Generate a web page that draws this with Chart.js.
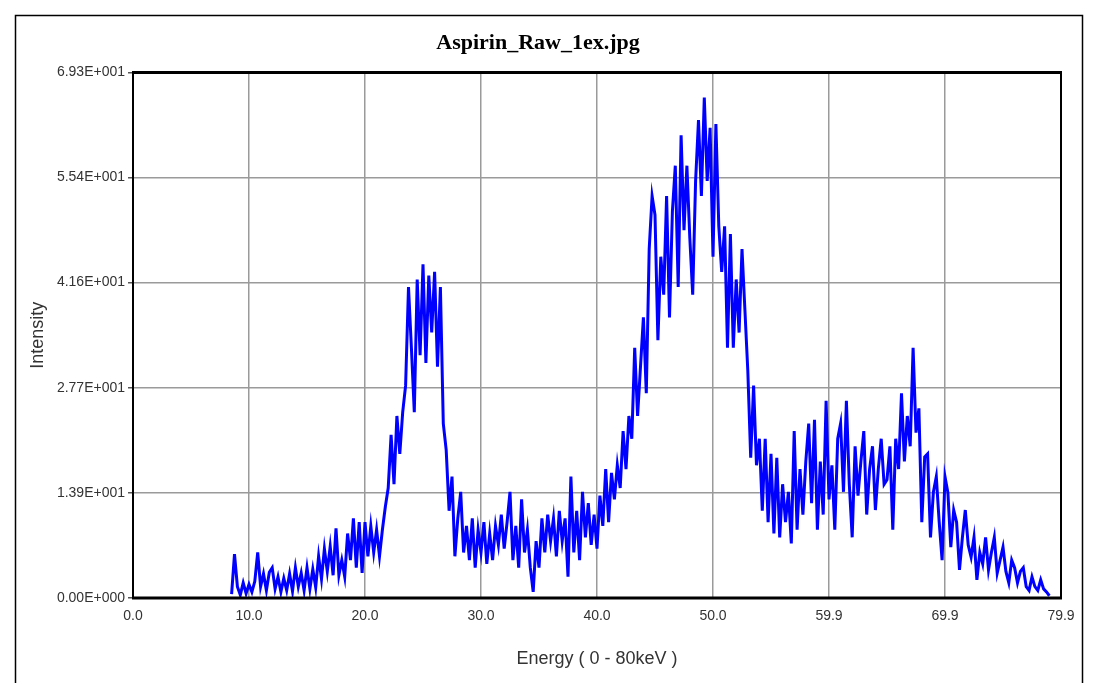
<!DOCTYPE html>
<html>
<head>
<meta charset="utf-8">
<script src="https://cdn.jsdelivr.net/npm/chart.js@4/dist/chart.umd.min.js"></script>
<style>
  html, body { margin: 0; padding: 0; background: #fff; }
</style>
</head>
<body>
<canvas id="spectrum" width="1100" height="683"></canvas>
<script>
/* ======================
   DATA
====================== */
const chartTitle = "Aspirin_Raw_1ex.jpg"
const xTitle = "Energy ( 0 - 80keV )"
const yTitle = "Intensity"

const xTickValues = [0, 10, 20, 30, 40, 50, 60, 70, 80]
const xTickLabels = ["0.0", "10.0", "20.0", "30.0", "40.0", "50.0", "59.9", "69.9", "79.9"]

const yTickValues = [0, 13.86, 27.72, 41.58, 55.44, 69.3]
const yTickLabels = ["0.00E+000", "1.39E+001", "2.77E+001", "4.16E+001", "5.54E+001", "6.93E+001"]

// channel calibration (keV)
const startEnergy = 8.5
const channelWidth = 0.25

// intensity per channel
const intensity = [
  0.5, 5.8,
  1.5, 0.4, 2.0, 0.6,
  1.8, 0.8, 2.2, 6.0,
  1.5, 3.2, 1.0, 3.4,
  4.0, 1.2, 2.8, 0.8,
  2.6, 1.0, 3.2, 0.9,
  4.0, 1.5, 3.3, 1.0,
  4.0, 1.2, 3.8, 1.4,
  5.5, 2.5, 6.5, 3.5,
  6.8, 3.0, 9.2, 3.0,
  5.0, 2.8, 8.5, 5.0,
  10.5, 4.0, 10.0, 3.3,
  10.0, 5.5, 9.5, 6.0,
  9.0, 5.5, 9.0, 12.0,
  14.5, 21.5, 15.0, 24.0,
  19.0, 24.5, 28.0, 41.0,
  33.0, 24.5, 42.0, 32.0,
  44.0, 31.0, 42.5, 35.0,
  43.0, 30.5, 41.0, 23.0,
  19.5, 11.5, 16.0, 5.5,
  10.5, 14.0, 6.0, 9.5,
  5.0, 10.5, 4.0, 9.0,
  6.0, 10.0, 4.5, 8.5,
  5.0, 9.5, 7.0, 11.0,
  6.5, 10.0, 14.0, 5.0,
  9.5, 4.0, 13.0, 6.0,
  9.0, 4.0, 0.8, 7.5,
  4.0, 10.5, 6.0, 11.0,
  7.5, 10.5, 5.5, 11.5,
  7.5, 10.5, 2.8, 16.0,
  6.0, 11.5, 5.0, 14.0,
  8.0, 12.5, 7.0, 11.0,
  6.5, 13.5, 9.5, 17.0,
  10.0, 16.5, 13.0, 17.5,
  14.5, 22.0, 17.0, 24.0,
  21.0, 33.0, 24.0, 30.5,
  37.0, 27.0, 46.0, 53.0,
  50.5, 34.0, 45.0, 40.0,
  53.0, 37.0, 51.0, 57.0,
  41.0, 61.0, 48.5, 57.0,
  47.5, 40.0, 55.0, 63.0,
  53.0, 66.0, 55.0, 62.0,
  45.0, 62.5, 49.0, 43.0,
  49.0, 33.0, 48.0, 33.0,
  42.0, 35.0, 46.0, 38.0,
  30.0, 18.5, 28.0, 17.5,
  21.0, 11.5, 21.0, 10.0,
  19.0, 8.5, 18.5, 8.0,
  15.0, 10.0, 14.0, 7.2,
  22.0, 9.0, 17.0, 11.0,
  18.0, 23.0, 12.5, 23.5,
  9.0, 18.0, 11.0, 26.0,
  13.0, 17.5, 9.0, 21.0,
  23.0, 14.0, 26.0, 15.0,
  8.0, 20.0, 13.5, 18.0,
  22.0, 11.0, 17.0, 20.0,
  11.6, 17.0, 21.0, 15.0,
  15.6, 20.0, 9.0, 21.0,
  17.0, 27.0, 18.0, 24.0,
  20.0, 33.0, 21.8, 25.0,
  10.0, 18.6, 19.0, 8.0,
  14.0, 16.0, 10.0, 5.0,
  16.0, 13.9, 6.7, 11.6,
  10.0, 3.7, 8.0, 11.6,
  7.0, 5.4, 8.0, 2.4,
  6.0, 4.5, 8.0, 3.7,
  6.0, 8.0, 3.3, 5.0,
  6.7, 3.5, 2.0, 5.0,
  4.0, 2.0, 3.5, 4.0,
  1.5, 1.0, 2.8, 1.5,
  1.0, 2.4, 1.2, 0.8,
  0.3
]

const points = intensity.map((v, i) => ({ x: startEnergy + i * channelWidth, y: v }))

/* ======================
   FRAME (outer box + plot box)
====================== */
const framePlugin = {
  id: "frame",
  afterDraw(chart) {
    const { ctx, chartArea: a } = chart
    ctx.save()
    ctx.strokeStyle = "#000"
    ctx.lineWidth = 1.5
    ctx.strokeRect(15.5, 15.5, 1067, 700)

    ctx.lineWidth = 3
    ctx.beginPath()
    ctx.moveTo(a.left - 1, a.top)
    ctx.lineTo(a.right + 1, a.top)
    ctx.moveTo(a.left - 1, a.bottom)
    ctx.lineTo(a.right + 1, a.bottom)
    ctx.stroke()

    ctx.lineWidth = 2
    ctx.beginPath()
    ctx.moveTo(a.left, a.top)
    ctx.lineTo(a.left, a.bottom)
    ctx.moveTo(a.right, a.top)
    ctx.lineTo(a.right, a.bottom)
    ctx.stroke()
    ctx.restore()
  }
}

/* ======================
   CHART
====================== */
const tickFont = { family: "'Liberation Sans', Arial, sans-serif", size: 14 }
const axisTitleFont = { family: "'Liberation Sans', Arial, sans-serif", size: 18 }

new Chart(document.getElementById("spectrum"), {
  type: "line",
  data: {
    datasets: [{
      data: points,
      borderColor: "#0000ff",
      borderWidth: 3,
      borderJoinStyle: "miter",
      pointRadius: 0,
      tension: 0,
      fill: false
    }]
  },
  options: {
    responsive: false,
    animation: false,
    devicePixelRatio: 1,
    layout: { padding: { left: 15, right: 39, top: 15, bottom: 0 } },
    plugins: {
      legend: { display: false },
      tooltip: { enabled: false },
      title: {
        display: true,
        text: chartTitle,
        color: "#000",
        font: { family: "'Liberation Serif', 'Times New Roman', serif", size: 22, weight: "bold" },
        padding: { top: 15, bottom: 16 }
      }
    },
    scales: {
      x: {
        type: "linear",
        min: xTickValues[0],
        max: xTickValues[xTickValues.length - 1],
        afterBuildTicks: (s) => { s.ticks = xTickValues.map(v => ({ value: v })) },
        afterFit: (s) => { s.height = 85 },
        ticks: {
          color: "#333",
          font: tickFont,
          padding: 4,
          maxRotation: 0,
          callback: (v, i) => xTickLabels[i]
        },
        grid: { color: "#9a9a9a", lineWidth: 1.5, tickLength: 6, tickColor: "rgba(0,0,0,0)" },
        border: { display: false },
        title: {
          display: true,
          text: xTitle,
          color: "#333",
          font: axisTitleFont,
          padding: { top: 0, bottom: 13 }
        }
      },
      y: {
        min: yTickValues[0],
        max: yTickValues[yTickValues.length - 1],
        afterBuildTicks: (s) => { s.ticks = yTickValues.map(v => ({ value: v })) },
        afterFit: (s) => { s.width = 118 },
        ticks: {
          color: "#333",
          font: tickFont,
          padding: 3,
          callback: (v, i) => yTickLabels[i]
        },
        grid: { color: "#9a9a9a", lineWidth: 1.5, tickLength: 5, tickColor: "#555" },
        border: { display: false },
        title: {
          display: true,
          text: yTitle,
          color: "#333",
          font: axisTitleFont,
          padding: { top: 12, bottom: 0 }
        }
      }
    }
  },
  plugins: [framePlugin]
})
</script>
</body>
</html>
